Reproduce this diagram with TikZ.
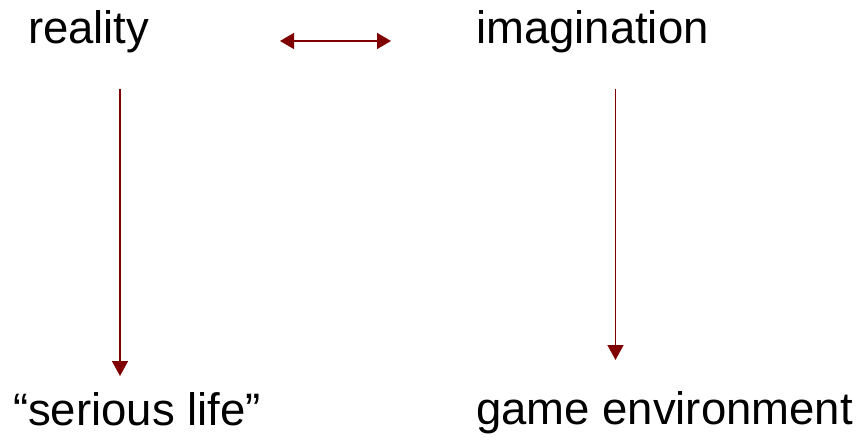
\documentclass[tikz,border=0pt]{standalone}
\usepackage{fontspec}
\setmainfont{Liberation Sans}
\usetikzlibrary{arrows.meta}
\definecolor{arrowred}{HTML}{800000}
\tikzset{
  lbl/.style={anchor=base west, inner sep=0pt, outer sep=0pt, font=\fontsize{45.5}{52}\selectfont, text=black},
  conn/.style={draw=arrowred, line width=1.5pt, -{Triangle[length=15pt,width=16pt]}},
  dconn/.style={draw=arrowred, line width=1.5pt, {Triangle[length=14pt,width=16pt]}-{Triangle[length=14pt,width=16pt]}}
}
\begin{document}
\begin{tikzpicture}[x=1pt,y=-1pt]
\useasboundingbox (0,0) rectangle (864,443);
\node[lbl] (reality) at (28,44) {reality};
\node[lbl] (imag) at (476,44) {imagination};
\node[lbl] (serious) at (13,425) {“serious life”};
\node[lbl] (game) at (476,424) {game environment};
\coordinate (dl) at (280,41);
\coordinate (dr) at (391,41);
\coordinate (ls) at (120,89);
\coordinate (le) at (120,376);
\coordinate (rs) at (615.5,89);
\coordinate (re) at (615.5,360);
\draw[dconn] (dl) -- (dr);
\draw[conn] (ls) -- (le);
\draw[conn] (rs) -- (re);
\end{tikzpicture}
\end{document}
